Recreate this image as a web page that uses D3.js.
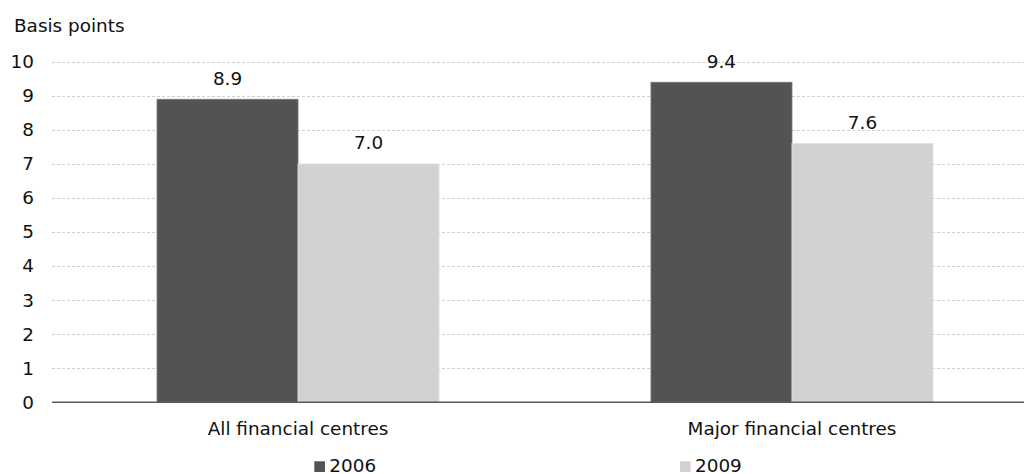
<!DOCTYPE html>
<html>
<head>
<meta charset="utf-8">
<script src="https://cdn.jsdelivr.net/npm/d3@7/dist/d3.min.js"></script>
<style>
  html, body { margin: 0; padding: 0; background: #fff; }
  svg { display: block; font-family: "DejaVu Sans", Verdana, sans-serif; }
</style>
</head>
<body>
<svg id="chart" width="1024" height="474"></svg>
<script>
// Data
const categories = ["All financial centres", "Major financial centres"];
const seriesNames = ["2006", "2009"];
const values2006 = [8.9, 9.4];
const values2009 = [7.0, 7.6];
const yTicks = [0, 1, 2, 3, 4, 5, 6, 7, 8, 9, 10];
const yLabel = "Basis points";

const colors = { "2006": "#535353", "2009": "#d2d2d2" };
const series = { "2006": values2006, "2009": values2009 };

const width = 1024, height = 474;
const plotLeft = 52, plotRight = 1024;
const svg = d3.select("#chart");

const y = d3.scaleLinear().domain([0, 10]).range([402.3, 61.8]);

const x0 = d3.scaleBand()
  .domain(categories)
  .range([51, 1039])
  .paddingInner(0.429)
  .paddingOuter(0.2146);

const x1 = d3.scaleBand()
  .domain(seriesNames)
  .range([0, x0.bandwidth()])
  .padding(0);

const fontSize = 18.4;

// Gridlines
svg.append("g")
  .selectAll("line")
  .data(yTicks.filter(d => d > 0))
  .join("line")
  .attr("x1", plotLeft)
  .attr("x2", plotRight)
  .attr("y1", d => Math.round(y(d)) + 0.5)
  .attr("y2", d => Math.round(y(d)) + 0.5)
  .attr("stroke", "#cfcfcf")
  .attr("stroke-width", 1)
  .attr("stroke-dasharray", "3,2");

// Y axis tick labels
const yAxis = d3.axisLeft(y).tickValues(yTicks).tickSize(0).tickPadding(0)
  .tickFormat(d3.format("d"));
const yg = svg.append("g").attr("transform", "translate(34,0)").call(yAxis);
yg.select(".domain").remove();
yg.selectAll("text")
  .attr("font-size", fontSize)
  .attr("font-family", '"DejaVu Sans", Verdana, sans-serif')
  .attr("fill", "#111");

// Axis title
svg.append("text")
  .attr("x", 14)
  .attr("y", 32)
  .attr("font-size", fontSize)
  .attr("fill", "#111")
  .text(yLabel);

// Bars
const groups = svg.append("g")
  .selectAll("g")
  .data(categories)
  .join("g")
  .attr("transform", d => `translate(${x0(d)},0)`);

groups.selectAll("rect")
  .data((c, i) => seriesNames.map(s => ({ s, v: series[s][i] })))
  .join("rect")
  .attr("x", d => x1(d.s))
  .attr("y", d => y(d.v))
  .attr("width", x1.bandwidth())
  .attr("height", d => y(0) - y(d.v))
  .attr("fill", d => colors[d.s])
  .attr("stroke", d => d.s === "2006" ? "#7a7a7a" : "#e2e2e2")
  .attr("stroke-width", 0.8);

// Value labels
groups.selectAll("text.val")
  .data((c, i) => seriesNames.map(s => ({ s, v: series[s][i] })))
  .join("text")
  .attr("class", "val")
  .attr("x", d => x1(d.s) + x1.bandwidth() / 2)
  .attr("y", d => y(d.v) - 14.5)
  .attr("text-anchor", "middle")
  .attr("font-size", fontSize)
  .attr("fill", "#111")
  .text(d => d3.format(".1f")(d.v));

// X axis baseline
svg.append("line")
  .attr("x1", plotLeft)
  .attr("x2", plotRight)
  .attr("y1", y(0))
  .attr("y2", y(0))
  .attr("stroke", "#5a5a5a")
  .attr("stroke-width", 1.4);

// Category labels
svg.append("g")
  .selectAll("text")
  .data(categories)
  .join("text")
  .attr("x", d => x0(d) + x0.bandwidth() / 2)
  .attr("y", 435)
  .attr("text-anchor", "middle")
  .attr("font-size", fontSize)
  .attr("fill", "#111")
  .text(d => d);

// Legend
const legendX = { "2006": 314.3, "2009": 680 };
const legend = svg.append("g")
  .selectAll("g")
  .data(seriesNames)
  .join("g")
  .attr("transform", d => `translate(${legendX[d]},0)`);
legend.append("rect")
  .attr("x", 0)
  .attr("y", 461.3)
  .attr("width", 10.7)
  .attr("height", 10.7)
  .attr("fill", d => colors[d]);
legend.append("text")
  .attr("x", 15)
  .attr("y", 471.5)
  .attr("font-size", fontSize)
  .attr("fill", "#111")
  .text(d => d);
</script>
</body>
</html>
